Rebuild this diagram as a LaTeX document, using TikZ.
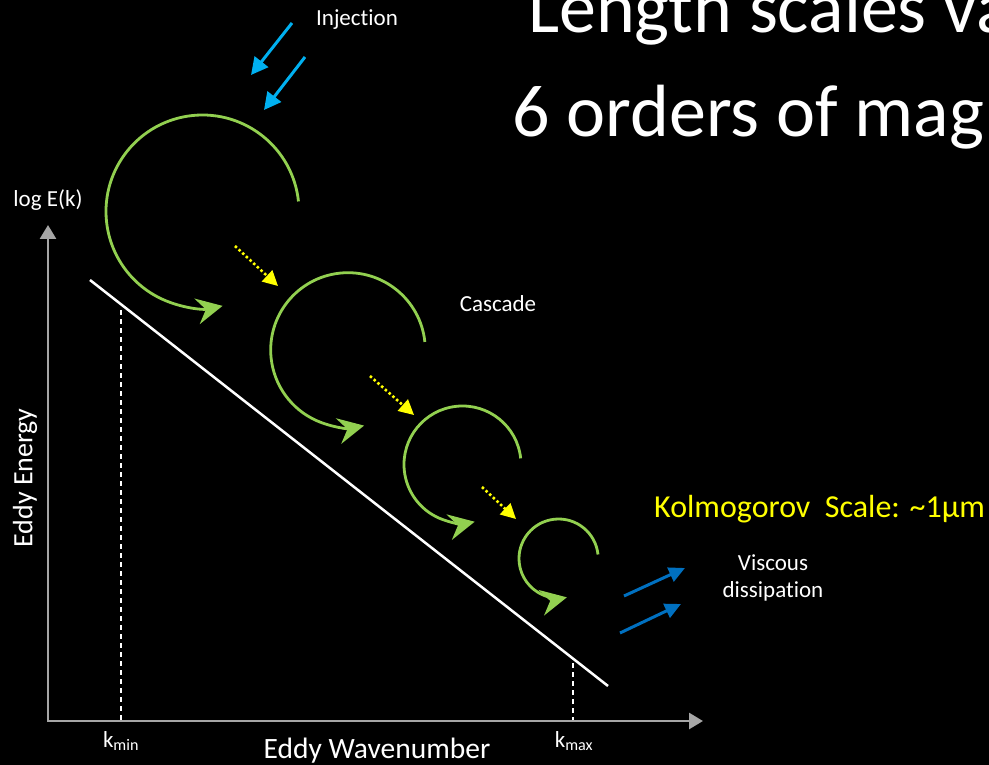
\documentclass[tikz,border=0pt]{standalone}
\usepackage{fontspec}
\setmainfont{Carlito}[Ligatures=NoCommon]
\usepackage{xcolor}
\usetikzlibrary{arrows.meta, positioning}

\definecolor{axisgray}{HTML}{A6A6A6}
\definecolor{eddygreen}{HTML}{92D050}
\definecolor{injblue}{HTML}{00B0F0}
\definecolor{dissblue}{HTML}{0070C0}
\definecolor{kolyellow}{HTML}{FFFF00}

\begin{document}
\begin{tikzpicture}[
    x=1pt, y=-1pt,
    lbl/.style={text=white, inner sep=0pt, font=\fontsize{23}{27}\selectfont},
    biglbl/.style={text=white, inner sep=0pt, font=\fontsize{28}{32}\selectfont},
    title/.style={text=white, inner sep=0pt, anchor=base west, font=\fontsize{74}{80}\selectfont},
    axis/.style={draw=axisgray, line width=2.8pt,
        {Triangle[length=14pt, width=16pt]}-{Triangle[length=14pt, width=16pt]}},
    spec/.style={draw=white, line width=2.5pt},
    drop/.style={draw=white, line width=1.3pt, dash pattern=on 5pt off 4pt},
    eddy/.style={draw=eddygreen, line width=2.8pt,
        -{Stealth[length=26pt, width=26pt, inset=9pt]}},
    cascade/.style={draw=kolyellow, line width=2.6pt, dash pattern=on 2.5pt off 2.5pt,
        -{Triangle[length=15pt, width=15pt]}},
    inj/.style={draw=injblue, line width=3pt, -{Triangle[length=17pt, width=17pt]}},
    diss/.style={draw=dissblue, line width=3pt, -{Triangle[length=16pt, width=15pt]}}
]
\clip (0,0) rectangle (989,765);
\fill[black] (0,0) rectangle (989,765);

\node[title] (title1) at (528,33) {Length scales va};
\node[title] (title2) at (512,137) {6 orders of mag};

\coordinate (ytop) at (48,225);
\coordinate (xend) at (703,721);
\draw[axis] (ytop) |- (xend);

\coordinate (sa) at (90,280);
\coordinate (sb) at (608,686);
\draw[spec] (sa) -- (sb);

\coordinate (kminup) at (121,310);
\coordinate (kmindn) at (121,720);
\coordinate (kmaxup) at (573,663);
\coordinate (kmaxdn) at (573,720);
\draw[drop] (kminup) -- (kmindn);
\draw[drop] (kmaxup) -- (kmaxdn);

\coordinate (eddy1) at (202.5,211.5);
\coordinate (eddy2) at (348,350);
\coordinate (eddy3) at (462.5,464.5);
\coordinate (eddy4) at (558.6,558.6);
\foreach \e/\r in {eddy1/96.5, eddy2/77.3, eddy3/58.5, eddy4/39.6}
    \draw[eddy] ([shift={(-6:\r)}]\e) arc[start angle=-6, end angle=-282, radius=\r];

\coordinate (c1a) at (235,246);
\coordinate (c1b) at (278,286);
\coordinate (c2a) at (370,376);
\coordinate (c2b) at (414,415);
\coordinate (c3a) at (482,487);
\coordinate (c3b) at (516,519);
\draw[cascade] (c1a) -- (c1b);
\draw[cascade] (c2a) -- (c2b);
\draw[cascade] (c3a) -- (c3b);

\coordinate (i1a) at (292,23);
\coordinate (i1b) at (251,75);
\coordinate (i2a) at (305,57);
\coordinate (i2b) at (264,110);
\draw[inj] (i1a) -- (i1b);
\draw[inj] (i2a) -- (i2b);

\coordinate (d1a) at (624,596);
\coordinate (d1b) at (685,568);
\coordinate (d2a) at (620,633);
\coordinate (d2b) at (681,604);
\draw[diss] (d1a) -- (d1b);
\draw[diss] (d2a) -- (d2b);

\node[lbl] (inject) at (357,20) {Injection};
\node[lbl] (casc) at (498,304) {Cascade};
\node[lbl, align=center] (visc) at (773,578) {Viscous\\dissipation};
\node[lbl] (logE) at (48,200) {log E(k)};
\node[text=kolyellow, inner sep=0pt, anchor=base west, font=\fontsize{32}{36}\selectfont]
    (kolmo) at (654,517) {Kolmogorov\ \ Scale: \textasciitilde1µm};

\node[biglbl, rotate=90] (energy) at (25,478) {Eddy Energy};
\node[biglbl, anchor=base, font=\fontsize{29.5}{33}\selectfont] (wavenum) at (377,758) {Eddy Wavenumber};
\node[lbl, anchor=base] (kmin) at (121,747) {k\textsubscript{min}};
\node[lbl, anchor=base] (kmax) at (574,747) {k\textsubscript{max}};
\end{tikzpicture}
\end{document}
